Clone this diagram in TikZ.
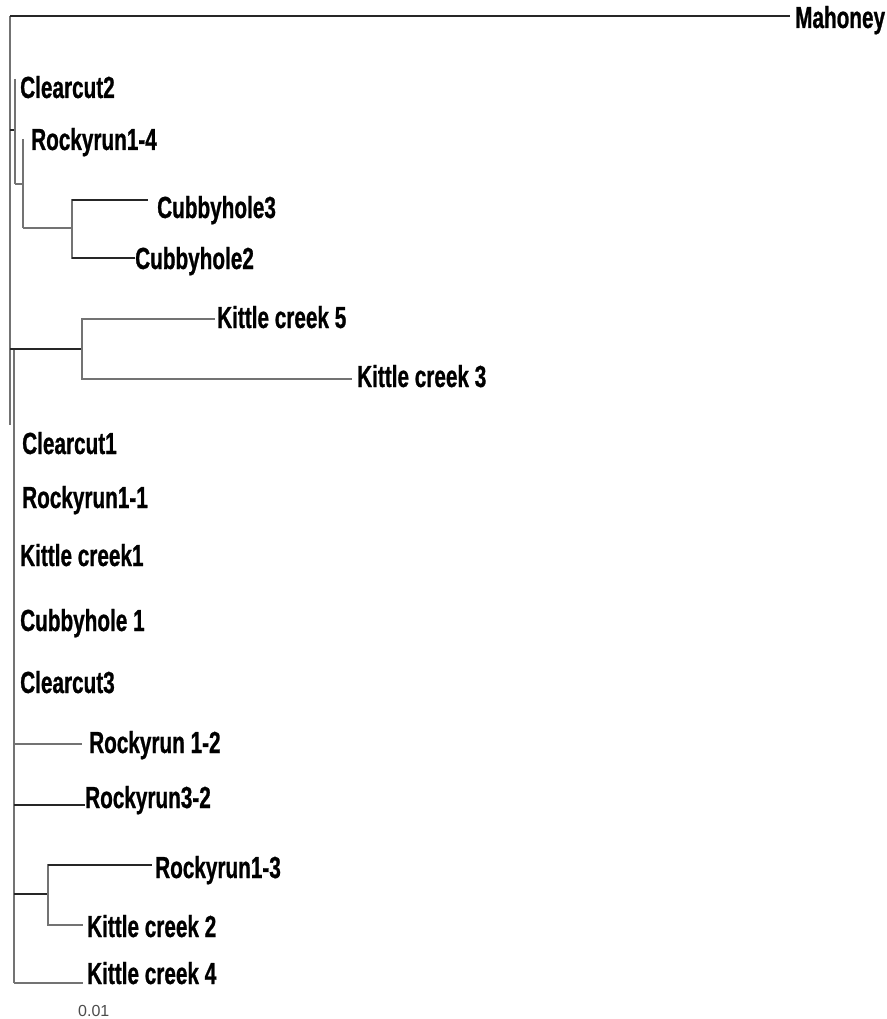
\documentclass[tikz,border=0pt]{standalone}
\usepackage{fontspec}
\newfontfamily\labfont{Liberation Sans}[FakeStretch=0.68,FakeBold=0.8]
\newfontfamily\sbfont{Liberation Sans}
\begin{document}
\begin{tikzpicture}[x=1pt,y=-1pt,
  blk/.style={draw=black!85, line width=1.9pt},
  gry/.style={draw=black!55, line width=2pt},
  lab/.style={anchor=base west, inner sep=0pt, font=\labfont\bfseries\fontsize{30.5}{30.5}\selectfont},
  sb/.style={anchor=base west, inner sep=0pt, text=black!70, font=\sbfont\fontsize{16}{16}\selectfont}]
\useasboundingbox (0,0) rectangle (886,1019);
% internal nodes and tips
\coordinate (r0) at (10,16);
\coordinate (r1) at (10,425);
\coordinate (tMah) at (790,16);
\coordinate (rA) at (10,130);
\coordinate (n1) at (15,130);
\coordinate (tCC2) at (15,79);
\coordinate (n1b) at (15,184);
\coordinate (n2) at (23,184);
\coordinate (tRR14) at (23,139);
\coordinate (n2b) at (23,228);
\coordinate (n3) at (72,228);
\coordinate (tCH3) at (148,200);
\coordinate (tCH2) at (135,258);
\coordinate (rB) at (10,349);
\coordinate (n4) at (82,349);
\coordinate (tKC5) at (215,319);
\coordinate (tKC3) at (352,379);
\coordinate (g0) at (14,350);
\coordinate (g1) at (14,983);
\coordinate (gRR12) at (14,744);
\coordinate (tRR12) at (82,744);
\coordinate (gRR32) at (14,805);
\coordinate (tRR32) at (85,805);
\coordinate (gN5) at (14,894);
\coordinate (n5) at (48,894);
\coordinate (tRR13) at (152,865);
\coordinate (tKC2) at (83,925);
\coordinate (tKC4) at (83,983);
% branches
\draw[gry] (r0) -- (r1);
\draw[blk] (r0) -- (tMah);
\draw[blk] (rA) -- (n1);
\draw[gry] (tCC2) -- (n1b);
\draw[gry] (n1b) -- (n2);
\draw[gry] (tRR14) -- (n2b);
\draw[gry] (n2b) -- (n3);
\draw[gry] (n3) |- (tCH3);
\draw[gry] (n3) |- (tCH2);
\draw[blk] (n3 |- tCH3) -- (tCH3);
\draw[blk] (n3 |- tCH2) -- (tCH2);
\draw[blk] (rB) -- (n4);
\draw[gry] (n4) |- (tKC5);
\draw[gry] (n4) |- (tKC3);
\draw[gry] (g0) -- (g1);
\draw[gry] (gRR12) -- (tRR12);
\draw[blk] (gRR32) -- (tRR32);
\draw[blk] (gN5) -- (n5);
\draw[gry] (n5) |- (tRR13);
\draw[gry] (n5) |- (tKC2);
\draw[blk] (n5 |- tRR13) -- (tRR13);
\draw[gry] (g1) -- (tKC4);
% labels
\node[lab] (lMah) at (795,28) {Mahoney};
\node[lab] (lCC2) at (20,98) {Clearcut2};
\node[lab] (lRR14) at (31,150) {Rockyrun1-4};
\node[lab] (lCH3) at (157,218) {Cubbyhole3};
\node[lab] (lCH2) at (135,269) {Cubbyhole2};
\node[lab] (lKC5) at (217,328) {Kittle creek 5};
\node[lab] (lKC3) at (357,387) {Kittle creek 3};
\node[lab] (lCC1) at (22,454) {Clearcut1};
\node[lab] (lRR11) at (22,508) {Rockyrun1-1};
\node[lab] (lKC1) at (20,566) {Kittle creek1};
\node[lab] (lCH1) at (20,631) {Cubbyhole 1};
\node[lab] (lCC3) at (20,693) {Clearcut3};
\node[lab] (lRR12) at (89,753) {Rockyrun 1-2};
\node[lab] (lRR32) at (85,808) {Rockyrun3-2};
\node[lab] (lRR13) at (155,878) {Rockyrun1-3};
\node[lab] (lKC2) at (87,937) {Kittle creek 2};
\node[lab] (lKC4) at (87,984) {Kittle creek 4};
\node[sb] (lsc) at (78,1016) {0.01};
\end{tikzpicture}
\end{document}
